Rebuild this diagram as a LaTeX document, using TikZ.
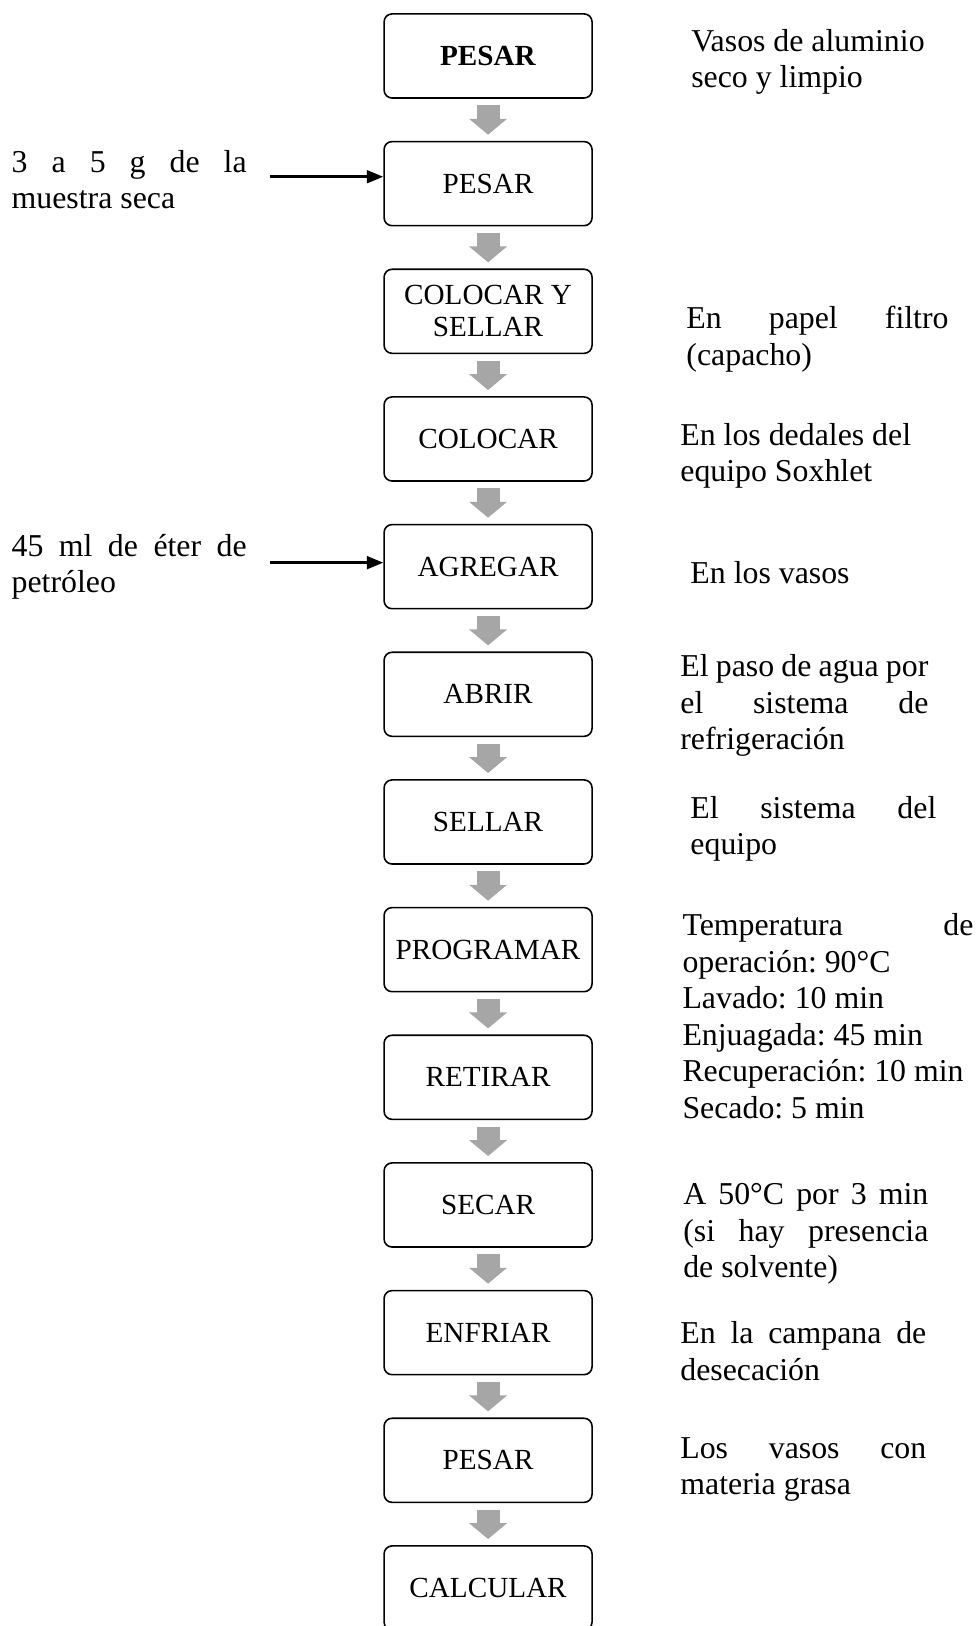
\documentclass[tikz,border=0pt]{standalone}
\usepackage{fontspec}
\setmainfont{Liberation Serif}
\usetikzlibrary{positioning,arrows.meta}
\definecolor{arrowgray}{HTML}{A6A6A6}
\frenchspacing
\begin{document}
\begin{tikzpicture}
[node distance=48.13pt, font=\fontsize{12}{13.8}\selectfont]
\tikzstyle{stepbox}=[draw, rounded corners=3pt, line width=0.6pt, minimum width=78.4pt, minimum height=31.7pt, align=center, font=\fontsize{11}{12}\selectfont]
\tikzstyle{note}=[inner sep=0pt, align=justify]
\tikzstyle{flow}=[draw=arrowgray, line width=8.7pt, -{Triangle[length=6pt, width=14pt]}]
\tikzstyle{feed}=[line width=1pt, -{Triangle[length=6.2pt, width=4.8pt]}]
\useasboundingbox (0,0) rectangle (368.3pt,-613pt);

\node[stepbox]	(P1)	at (184pt,-21.1pt)	{\textbf{PESAR}};
\node[stepbox]	(P2)	[below of=P1]	{PESAR};
\node[stepbox]	(P3)	[below of=P2]	{COLOCAR Y\\SELLAR};
\node[stepbox]	(P4)	[below of=P3]	{COLOCAR};
\node[stepbox]	(P5)	[below of=P4]	{AGREGAR};
\node[stepbox]	(P6)	[below of=P5]	{ABRIR};
\node[stepbox]	(P7)	[below of=P6]	{SELLAR};
\node[stepbox]	(P8)	[below of=P7]	{PROGRAMAR};
\node[stepbox]	(P9)	[below of=P8]	{RETIRAR};
\node[stepbox]	(P10)	[below of=P9]	{SECAR};
\node[stepbox]	(P11)	[below of=P10]	{ENFRIAR};
\node[stepbox]	(P12)	[below of=P11]	{PESAR};
\node[stepbox]	(P13)	[below of=P12]	{CALCULAR};

\node[note, text width=88.6pt]	(L1)	[left=51.3pt of P2, yshift=1.5pt]	{3 a 5 g de la\linebreak muestra seca};
\node[note, text width=88.6pt]	(L2)	[left=51.3pt of P5]	{45 ml de éter de\linebreak petróleo};

\node[note, align=left]	(N1)	[right=36.9pt of P1, yshift=-2.3pt]	{Vasos de aluminio\\seco y limpio};
\node[note, text width=98.8pt]	(N3)	[right=35.1pt of P3, yshift=-10.4pt]	{En papel filtro\linebreak (capacho)};
\node[note, align=left]	(N4)	[right=32.8pt of P4, yshift=-6.4pt]	{En los dedales del\\equipo Soxhlet};
\node[note, align=left]	(N5)	[right=36.6pt of P5, yshift=-2.3pt]	{En los vasos};
\node[note, text width=93.5pt]	(N6)	[right=32.8pt of P6, yshift=-4.3pt]	{El paso de agua por\linebreak el sistema de\linebreak refrigeración};
\node[note, text width=92.7pt]	(N7)	[right=36.6pt of P7, yshift=-2.6pt]	{El sistema del\linebreak equipo};
\node[note, text width=109.7pt]	(N8)	[right=33.6pt of P8, yshift=-25.1pt]	{Temperatura de\linebreak operación: 90°C\\Lavado: 10 min\\Enjuagada: 45 min\\Recuperación: 10 min\\Secado: 5 min};
\node[note, text width=92.4pt]	(N10)	[right=33.9pt of P10, yshift=-10.9pt]	{A 50°C por 3 min\linebreak (si hay presencia\linebreak de solvente)};
\node[note, text width=92.7pt]	(N11)	[right=32.8pt of P11, yshift=-7pt]	{En la campana de\linebreak desecación};
\node[note, text width=92.7pt]	(N12)	[right=32.8pt of P12, yshift=-3.4pt]	{Los vasos con\linebreak materia grasa};

\foreach \a/\b in {P1/P2,P2/P3,P3/P4,P4/P5,P5/P6,P6/P7,P7/P8,P8/P9,P9/P10,P10/P11,P11/P12,P12/P13}
	\draw[flow] ([yshift=-2.5pt]\a.south) -- ([yshift=2.3pt]\b.north);

\draw[feed] ([xshift=-42.6pt,yshift=2.6pt]P2.west) -- ([yshift=2.6pt]P2.west);
\draw[feed] ([xshift=-42.6pt,yshift=1.5pt]P5.west) -- ([yshift=1.5pt]P5.west);
\end{tikzpicture}
\end{document}
